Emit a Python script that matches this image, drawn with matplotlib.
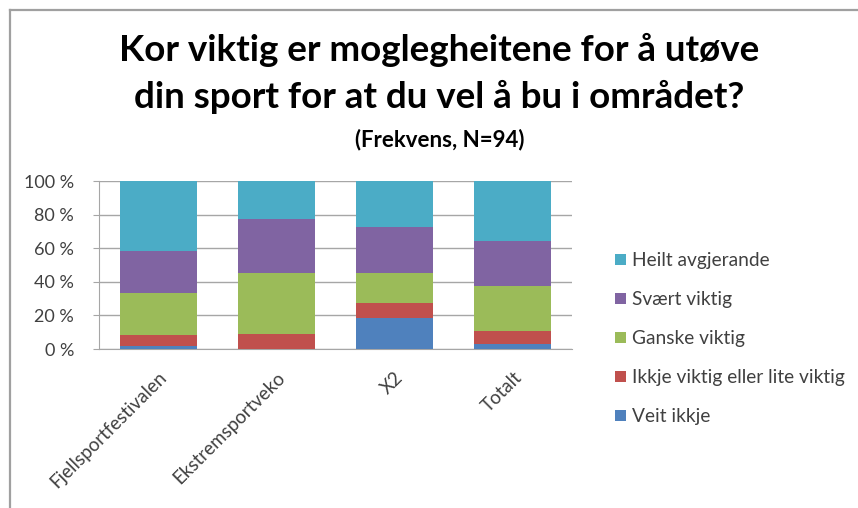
import matplotlib.pyplot as plt
from matplotlib.lines import Line2D
from matplotlib.ticker import FuncFormatter
import numpy as np

# percentages (stacked, bottom to top)
categories = ['Fjellsportfestivalen', 'Ekstremsportveko', 'X2', 'Totalt']
veit_ikkje = [1.7, 0.0, 18.2, 3.2]
ikkje_viktig = [6.7, 9.1, 9.1, 7.5]
ganske_viktig = [25.0, 36.4, 18.2, 26.9]
svaert_viktig = [25.0, 31.8, 27.3, 26.9]
heilt_avgjerande = [41.6, 22.7, 27.2, 35.5]

series_names = ['Veit ikkje', 'Ikkje viktig eller lite viktig', 'Ganske viktig',
                'Svært viktig', 'Heilt avgjerande']
series = [veit_ikkje, ikkje_viktig, ganske_viktig, svaert_viktig, heilt_avgjerande]
colors = ['#4F81BD', '#C0504D', '#9BBB59', '#8064A2', '#4BACC6']

plt.rcParams['font.family'] = ['Lato', 'DejaVu Sans']

fig = plt.figure(figsize=(8.58, 5.08), dpi=100)
W, H = 858, 508
ax = fig.add_axes([99 / W, 1 - 349 / H, 473 / W, 168 / H])

x = np.arange(len(categories))
bottom = np.zeros(len(categories))
bars = []
for name, vals, c in zip(series_names, series, colors):
    b = ax.bar(x, vals, 0.65, bottom=bottom, color=c, label=name, zorder=3)
    bars.append(b)
    bottom += np.array(vals)

ax.set_xlim(-0.5, 3.5)
ax.set_ylim(0, 100)
ax.set_yticks(range(0, 101, 20))
ax.yaxis.set_major_formatter(FuncFormatter(lambda v, p: '%d %%' % v))
ax.grid(axis='y', color='#a6a6a6', linewidth=1, zorder=0)
for s in ['top', 'right']:
    ax.spines[s].set_visible(False)
for s in ['left', 'bottom']:
    ax.spines[s].set_color('#a6a6a6')
ax.tick_params(axis='y', labelsize=13, colors='#a6a6a6', labelcolor='#404040',
               length=4, pad=14)
ax.tick_params(axis='x', length=0, labelsize=13.5, labelcolor='#404040', pad=14)
ax.set_xticks(x)
ax.set_xticklabels(categories, rotation=45, ha='right', rotation_mode='anchor')

fig.text(0.512, 1 - 50 / H, 'Kor viktig er moglegheitene for å utøve',
         ha='center', va='center', fontsize=26.5, fontweight='bold')
fig.text(0.512, 1 - 97 / H, 'din sport for at du vel å bu i området?',
         ha='center', va='center', fontsize=26.5, fontweight='bold')
fig.text(0.512, 1 - 140 / H, '(Frekvens, N=94)',
         ha='center', va='center', fontsize=16, fontweight='bold')

handles = bars[::-1]
labels = series_names[::-1]
fig.legend(handles, labels, loc='upper left', bbox_to_anchor=(598 / W, 1 - 235 / H),
           frameon=False, fontsize=13.8, handlelength=0.55, handleheight=0.55,
           handletextpad=0.3, labelspacing=1.15, labelcolor='#404040')

# outer chart border (top and left only visible)
fig.add_artist(Line2D([10 / W, 1], [1 - 10 / H, 1 - 10 / H], color='#a0a0a0', lw=1.6))
fig.add_artist(Line2D([10 / W, 10 / W], [0, 1 - 10 / H], color='#a0a0a0', lw=1.6))

fig.savefig('out.png', dpi=100)
